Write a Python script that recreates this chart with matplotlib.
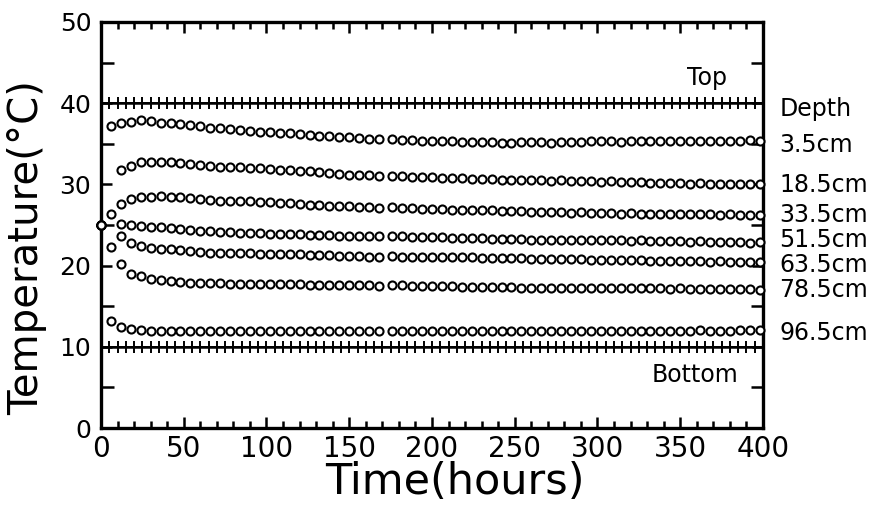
import numpy as np
import matplotlib
matplotlib.use("Agg")
import matplotlib.pyplot as plt
from matplotlib.ticker import MultipleLocator

nan = np.nan

# Sampling times (hours) of the soil temperature readings
times = [0, 6, 12, 18, 24, 30, 36, 42, 48, 54, 60, 66, 72, 78, 84, 90, 96,
         102, 108, 114, 120, 126, 132, 138, 144, 150, 156, 162, 168,
         176, 182, 188, 194, 200, 206, 212, 218, 224, 230, 236, 242, 248,
         254, 260, 266, 272, 278, 284, 290, 296, 302, 308, 314, 320, 326,
         332, 338, 344, 350, 356, 362, 368, 374, 380, 386, 392, 398]

depth_labels = ["3.5cm", "18.5cm", "33.5cm", "51.5cm", "63.5cm", "78.5cm", "96.5cm"]

t_3_5 = [25.0, 37.2, 37.6, 37.7, 37.9, 37.8, 37.6, 37.5, 37.4, 37.3,
         37.2, 37.0, 36.9, 36.8, 36.7, 36.6, 36.5, 36.4, 36.3, 36.3,
         36.2, 36.1, 36.0, 35.9, 35.8, 35.8, 35.7, 35.6, 35.6,
         35.6, 35.5, 35.5, 35.4, 35.4, 35.3, 35.3, 35.2, 35.2, 35.2,
         35.2, 35.1, 35.1, 35.2, 35.2, 35.2, 35.1, 35.2, 35.2, 35.2,
         35.3, 35.3, 35.3, 35.2, 35.3, 35.3, 35.3, 35.4, 35.3, 35.3,
         35.4, 35.4, 35.4, 35.3, 35.4, 35.4, 35.5, 35.4]

t_18_5 = [25.0, nan, 31.8, 32.3, 32.8, 32.8, 32.8, 32.7, 32.6, 32.5,
          32.4, 32.3, 32.2, 32.2, 32.1, 32.0, 32.0, 31.9, 31.8, 31.8,
          31.7, 31.6, 31.5, 31.4, 31.3, 31.2, 31.2, 31.1, 31.0,
          31.0, 31.0, 30.9, 30.9, 30.9, 30.8, 30.8, 30.8, 30.7, 30.7,
          30.7, 30.6, 30.6, 30.5, 30.5, 30.5, 30.4, 30.5, 30.4, 30.4,
          30.4, 30.3, 30.4, 30.3, 30.3, 30.3, 30.2, 30.2, 30.2, 30.2,
          30.1, 30.2, 30.1, 30.1, 30.1, 30.0, 30.1, 30.0]

t_33_5 = [25.0, nan, 27.6, 28.2, 28.4, 28.5, 28.6, 28.5, 28.4, 28.3,
          28.2, 28.1, 28.0, 28.0, 27.9, 27.9, 27.8, 27.8, 27.7, 27.7,
          27.6, 27.5, 27.5, 27.4, 27.3, 27.3, 27.2, 27.2, 27.1,
          27.2, 27.1, 27.1, 27.0, 27.0, 27.0, 26.9, 26.9, 26.8, 26.8,
          26.8, 26.7, 26.7, 26.7, 26.6, 26.6, 26.6, 26.6, 26.5, 26.6,
          26.5, 26.5, 26.5, 26.4, 26.5, 26.4, 26.4, 26.4, 26.3, 26.4,
          26.3, 26.3, 26.3, 26.2, 26.3, 26.2, 26.2, 26.2]

t_51_5 = [25.0, 26.3, 25.1, 25.0, 24.9, 24.8, 24.7, 24.6, 24.5, 24.4,
          24.3, 24.2, 24.1, 24.1, 24.0, 24.0, 24.0, 23.9, 23.9, 23.9,
          23.9, 23.8, 23.8, 23.8, 23.7, 23.7, 23.7, 23.6, 23.6,
          23.6, 23.6, 23.5, 23.5, 23.5, 23.5, 23.4, 23.4, 23.4, 23.4,
          23.3, 23.3, 23.3, 23.3, 23.2, 23.2, 23.2, 23.2, 23.2, 23.1,
          23.1, 23.1, 23.1, 23.1, 23.0, 23.1, 23.0, 23.0, 23.0, 23.0,
          22.9, 23.0, 22.9, 22.9, 22.9, 22.9, 22.8, 22.9]

t_63_5 = [25.0, 22.3, 23.6, 22.8, 22.4, 22.2, 22.1, 22.0, 21.9, 21.8,
          21.7, 21.6, 21.6, 21.5, 21.5, 21.5, 21.4, 21.4, 21.4, 21.4,
          21.4, 21.3, 21.3, 21.3, 21.2, 21.2, 21.2, 21.1, 21.1,
          21.2, 21.1, 21.1, 21.1, 21.0, 21.0, 21.0, 21.0, 21.0, 20.9,
          20.9, 20.9, 20.9, 20.9, 20.8, 20.8, 20.8, 20.8, 20.8, 20.8,
          20.7, 20.7, 20.7, 20.7, 20.7, 20.7, 20.6, 20.6, 20.6, 20.6,
          20.6, 20.6, 20.5, 20.6, 20.5, 20.5, 20.5, 20.5]

t_78_5 = [25.0, nan, 20.2, 19.0, 18.7, 18.4, 18.2, 18.1, 18.0, 17.9,
          17.9, 17.8, 17.8, 17.7, 17.7, 17.7, 17.7, 17.7, 17.7, 17.7,
          17.7, 17.6, 17.6, 17.6, 17.6, 17.6, 17.6, 17.6, 17.5,
          17.6, 17.6, 17.5, 17.5, 17.5, 17.5, 17.5, 17.4, 17.4, 17.4,
          17.4, 17.4, 17.4, 17.3, 17.3, 17.3, 17.3, 17.3, 17.3, 17.3,
          17.2, 17.3, 17.2, 17.2, 17.2, 17.2, 17.2, 17.2, 17.1, 17.2,
          17.1, 17.1, 17.1, 17.1, 17.1, 17.1, 17.1, 17.0]

t_96_5 = [25.0, 13.2, 12.5, 12.2, 12.1, 12.0, 12.0, 11.9, 11.9, 11.9,
          11.9, 11.9, 11.9, 11.9, 11.9, 11.9, 11.9, 11.9, 12.0, 11.9,
          11.9, 11.9, 11.9, 11.9, 11.9, 11.9, 11.9, 11.9, 11.9,
          11.9, 11.9, 11.9, 11.9, 12.0, 11.9, 11.9, 11.9, 11.9, 11.9,
          11.9, 11.9, 11.9, 11.9, 12.0, 11.9, 11.9, 11.9, 11.9, 12.0,
          11.9, 11.9, 12.0, 12.0, 11.9, 12.0, 12.0, 12.0, 12.0, 12.0,
          12.0, 12.1, 12.0, 12.0, 12.0, 12.1, 12.1, 12.1]

# Boundary (top heater / bottom cooler) temperatures, logged every 5 h
boundary_times = [0, 5, 10, 15, 20, 25, 30, 35, 40, 45, 50, 55, 60, 65, 70,
                  75, 80, 85, 90, 95, 100, 105, 110, 115, 120, 125, 130,
                  135, 140, 145, 150, 155, 160, 165, 170, 175, 180, 185,
                  190, 195, 200, 205, 210, 215, 220, 225, 230, 235, 240,
                  245, 250, 255, 260, 265, 270, 275, 280, 285, 290, 295,
                  300, 305, 310, 315, 320, 325, 330, 335, 340, 345, 350,
                  355, 360, 365, 370, 375, 380, 385, 390, 395, 400]
top_temp = [40.0, 40.0, 40.0, 40.0, 40.0, 40.0, 40.0, 40.0, 40.0, 40.0,
            40.0, 40.0, 40.0, 40.0, 40.0, 40.0, 40.0, 40.0, 40.0, 40.0,
            40.0, 40.0, 40.0, 40.0, 40.0, 40.0, 40.0, 40.0, 40.0, 40.0,
            40.0, 40.0, 40.0, 40.0, 40.0, 40.0, 40.0, 40.0, 40.0, 40.0,
            40.0, 40.0, 40.0, 40.0, 40.0, 40.0, 40.0, 40.0, 40.0, 40.0,
            40.0, 40.0, 40.0, 40.0, 40.0, 40.0, 40.0, 40.0, 40.0, 40.0,
            40.0, 40.0, 40.0, 40.0, 40.0, 40.0, 40.0, 40.0, 40.0, 40.0,
            40.0, 40.0, 40.0, 40.0, 40.0, 40.0, 40.0, 40.0, 40.0, 40.0,
            40.0]
bottom_temp = [10.0, 10.0, 10.0, 10.0, 10.0, 10.0, 10.0, 10.0, 10.0, 10.0,
               10.0, 10.0, 10.0, 10.0, 10.0, 10.0, 10.0, 10.0, 10.0, 10.0,
               10.0, 10.0, 10.0, 10.0, 10.0, 10.0, 10.0, 10.0, 10.0, 10.0,
               10.0, 10.0, 10.0, 10.0, 10.0, 10.0, 10.0, 10.0, 10.0, 10.0,
               10.0, 10.0, 10.0, 10.0, 10.0, 10.0, 10.0, 10.0, 10.0, 10.0,
               10.0, 10.0, 10.0, 10.0, 10.0, 10.0, 10.0, 10.0, 10.0, 10.0,
               10.0, 10.0, 10.0, 10.0, 10.0, 10.0, 10.0, 10.0, 10.0, 10.0,
               10.0, 10.0, 10.0, 10.0, 10.0, 10.0, 10.0, 10.0, 10.0, 10.0,
               10.0]

series = [t_3_5, t_18_5, t_33_5, t_51_5, t_63_5, t_78_5, t_96_5]

# Baseline heights (deg C) of the depth captions at the right edge
caption_y = [34.0, 29.1, 25.4, 22.3, 19.2, 16.1, 10.8]

plt.rcParams["font.family"] = ["DejaVu Sans"]

fig = plt.figure(figsize=(8.79, 5.18), dpi=100)
ax = fig.add_axes([101 / 879, 1 - 428 / 518, 662 / 879, 406 / 518])

ax.plot(boundary_times, top_temp, color="black", lw=1.8, marker="+",
        ms=8, mew=1.4, zorder=3)
ax.plot(boundary_times, bottom_temp, color="black", lw=1.8, marker="+",
        ms=8, mew=1.4, zorder=3)

for vals in series:
    ax.plot(times, vals, linestyle="none", marker="o", ms=5.8,
            mfc="white", mec="black", mew=1.5, zorder=4, clip_on=False)

ax.set_xlim(0, 400)
ax.set_ylim(0, 50)
ax.xaxis.set_major_locator(MultipleLocator(50))
ax.xaxis.set_minor_locator(MultipleLocator(10))
ax.yaxis.set_major_locator(MultipleLocator(10))
ax.yaxis.set_minor_locator(MultipleLocator(5))

for side in ["left", "right", "top", "bottom"]:
    ax.spines[side].set_linewidth(2.4)

ax.tick_params(which="both", direction="in", top=True, right=True,
               width=1.8, color="black")
ax.tick_params(which="major", length=8)
ax.tick_params(which="minor", length=5)
ax.tick_params(axis="y", which="minor", length=9)
ax.tick_params(axis="x", labelsize=20, pad=5)
ax.tick_params(axis="y", labelsize=18, pad=7)

ax.set_xlabel("Time(hours)", fontsize=31)
ax.xaxis.set_label_coords(0.535, -0.082)
ax.set_ylabel("Temperature(°C)", fontsize=29)
ax.yaxis.set_label_coords(-0.082, 0.445)

ax.text(366, 42.2, "Top", fontsize=17, ha="center", va="baseline")
ax.text(359, 5.7, "Bottom", fontsize=17, ha="center", va="baseline")
ax.text(410, 38.4, "Depth", fontsize=17, ha="left", va="baseline",
        clip_on=False)
for label, y in zip(depth_labels, caption_y):
    ax.text(410, y, label, fontsize=17, ha="left", va="baseline",
            clip_on=False)

fig.savefig("out.png", dpi=100)
